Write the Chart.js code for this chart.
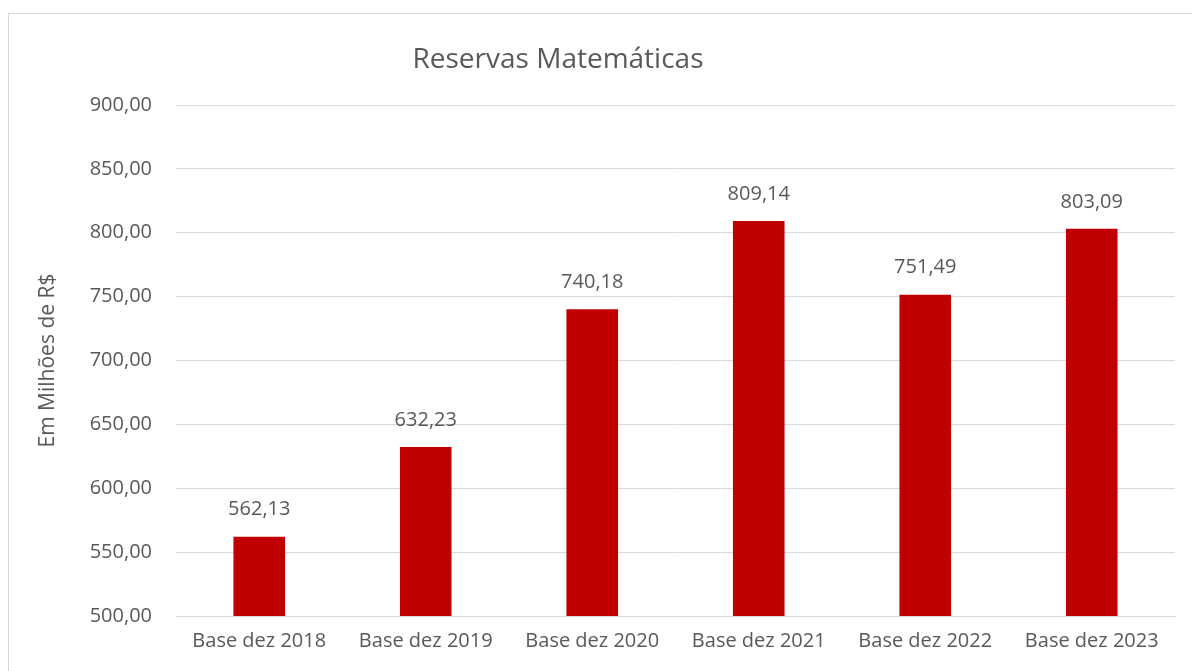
<!DOCTYPE html>
<html>
<head>
<meta charset="utf-8">
<script src="https://cdn.jsdelivr.net/npm/chart.js@4"></script>
<style>
  html, body { margin: 0; padding: 0; background: #fff; }
  #wrap { position: relative; width: 1192px; height: 671px; overflow: hidden; }
  #frame { position: absolute; left: 8px; top: 13px; width: 1300px; height: 800px;
           border-left: 1px solid #d9d9d9; border-top: 1px solid #d9d9d9; box-sizing: border-box; }
  #title { position: absolute; left: 308px; width: 500px; top: 38px; text-align: center;
           font-family: "Open Sans", sans-serif; font-size: 28px; color: #595959; line-height: 38px; }
  canvas { position: absolute; left: 0; top: 0; }
</style>
</head>
<body>
<div id="wrap">
  <div id="frame"></div>
  <canvas id="c" width="1192" height="671"></canvas>
  <div id="title">Reservas Matemáticas</div>
</div>
<script>
const categories = ["Base dez 2018", "Base dez 2019", "Base dez 2020", "Base dez 2021", "Base dez 2022", "Base dez 2023"];
const reservas = [562.13, 632.23, 740.18, 809.14, 751.49, 803.09];
const yMin = 500, yMax = 900, yStep = 50;
const yTitle = "Em Milhões de R$";

const fmt = v => v.toFixed(2).replace('.', ',');
const FONT = '"Open Sans", sans-serif';
const GRAY = '#595959';

const labelPlugin = {
  id: 'barLabels',
  afterDatasetsDraw(chart) {
    const ctx = chart.ctx;
    const meta = chart.getDatasetMeta(0);
    ctx.save();
    ctx.font = '20px ' + FONT;
    ctx.fillStyle = GRAY;
    ctx.textAlign = 'center';
    ctx.textBaseline = 'middle';
    meta.data.forEach((bar, i) => {
      ctx.fillText(fmt(reservas[i]), bar.x, bar.y - 27);
    });
    ctx.restore();
  }
};

new Chart(document.getElementById('c'), {
  type: 'bar',
  data: {
    labels: categories,
    datasets: [{
      data: reservas,
      backgroundColor: '#C00000',
      barPercentage: 0.62,
      categoryPercentage: 0.5
    }]
  },
  options: {
    responsive: false,
    animation: false,
    layout: { padding: { left: 35, right: 17, top: 105, bottom: 0 } },
    plugins: { legend: { display: false }, tooltip: { enabled: false }, title: { display: false } },
    scales: {
      x: {
        grid: { display: false, drawTicks: false },
        border: { display: true, color: '#d9d9d9', width: 1 },
        ticks: { color: GRAY, font: { family: FONT, size: 20 }, padding: 13, maxRotation: 0 },
        afterFit(s) { s.height = 55; }
      },
      y: {
        min: yMin, max: yMax,
        grid: { color: '#d9d9d9', lineWidth: 1, drawTicks: false },
        border: { display: false },
        ticks: { stepSize: yStep, color: GRAY, font: { family: FONT, size: 20 }, padding: 24,
                 callback: v => fmt(v) },
        title: { display: true, text: yTitle, color: GRAY, font: { family: FONT, size: 21 },
                 padding: { top: 0, bottom: 0 } },
        afterFit(s) { s.width = 141; }
      }
    }
  },
  plugins: [labelPlugin]
});
</script>
</body>
</html>
